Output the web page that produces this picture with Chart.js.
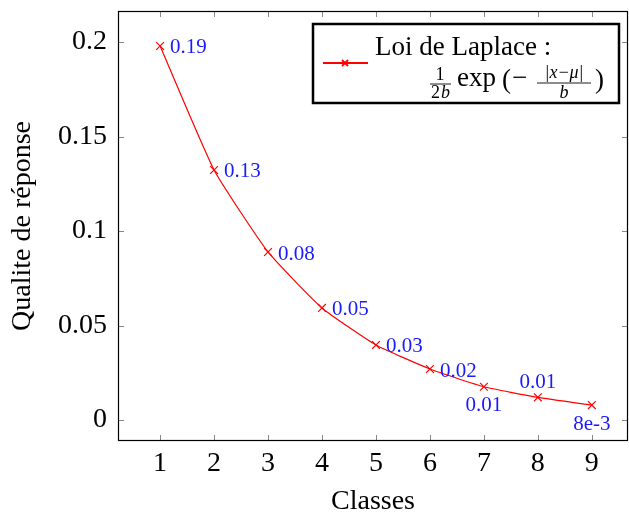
<!DOCTYPE html>
<html>
<head>
<meta charset="utf-8">
<script src="https://cdn.jsdelivr.net/npm/chart.js@4"></script>
<style>
  html, body { margin: 0; padding: 0; background: #fff; }
  #wrap { width: 629px; height: 514px; }
</style>
</head>
<body>
<div id="wrap"><canvas id="chart" width="629" height="514"></canvas></div>
<script>
// data
var classes = [1, 2, 3, 4, 5, 6, 7, 8, 9];
var quality = [0.1979, 0.1323, 0.0889, 0.0593, 0.0397, 0.0270, 0.0176, 0.0120, 0.0079];
var pointLabels = ['0.19', '0.13', '0.08', '0.05', '0.03', '0.02', '0.01', '0.01', '8e-3'];
var xTicks = [1, 2, 3, 4, 5, 6, 7, 8, 9];
var yTicks = [0, 0.05, 0.1, 0.15, 0.2];
var yTickLabels = ['0', '0.05', '0.1', '0.15', '0.2'];

var SERIF = '"Liberation Serif", "DejaVu Serif", serif';

// where each value label sits relative to its point (style only)
var labelPos = ['right', 'right', 'right', 'right', 'right', 'right', 'below', 'above', 'below'];

// plot area should reach the right edge like the pgfplots figure
var PLOT_RIGHT = 628;
var stretchRight = {
    id: 'stretchRight',
    afterLayout: function(chart) {
        var xs = chart.scales.x;
        xs.right = PLOT_RIGHT;
        xs.width = PLOT_RIGHT - xs.left;
        xs.configure();
        chart.chartArea.right = PLOT_RIGHT;
        chart.chartArea.width = PLOT_RIGHT - chart.chartArea.left;
    }
};

// frame + inward tick marks on all four sides
var framePlugin = {
    id: 'frame',
    afterDraw: function(chart) {
        var ctx = chart.ctx, a = chart.chartArea;
        var xs = chart.scales.x, ys = chart.scales.y;
        ctx.save();
        ctx.strokeStyle = '#888';
        ctx.lineWidth = 1;
        xTicks.forEach(function(v) {
            var px = Math.round(xs.getPixelForValue(v)) + 0.5;
            ctx.beginPath();
            ctx.moveTo(px, a.bottom); ctx.lineTo(px, a.bottom - 6);
            ctx.moveTo(px, a.top); ctx.lineTo(px, a.top + 6);
            ctx.stroke();
        });
        yTicks.forEach(function(v) {
            var py = Math.round(ys.getPixelForValue(v)) + 0.5;
            ctx.beginPath();
            ctx.moveTo(a.left, py); ctx.lineTo(a.left + 6, py);
            ctx.moveTo(a.right, py); ctx.lineTo(a.right - 6, py);
            ctx.stroke();
        });
        ctx.strokeStyle = '#000';
        ctx.lineWidth = 1.2;
        ctx.strokeRect(a.left + 0.5, a.top + 0.5, a.right - a.left - 1, a.bottom - a.top - 1);
        ctx.restore();
    }
};

// blue value labels next to the markers
var valueLabels = {
    id: 'valueLabels',
    afterDatasetsDraw: function(chart) {
        var ctx = chart.ctx;
        var meta = chart.getDatasetMeta(0);
        ctx.save();
        ctx.fillStyle = '#1a1aff';
        ctx.font = '21px ' + SERIF;
        ctx.textBaseline = 'middle';
        meta.data.forEach(function(pt, i) {
            var t = pointLabels[i], pos = labelPos[i];
            var x = pt.x, y = pt.y;
            ctx.textAlign = 'left';
            if (pos === 'right') { x += 10; y += 2; }
            else if (pos === 'above') { ctx.textAlign = 'center'; y -= 15; }
            else if (pos === 'below') { ctx.textAlign = 'center'; y += 19; }
            ctx.fillText(t, x, y);
        });
        ctx.restore();
    }
};

// pgfplots-like legend box with the formula
var legendBox = {
    id: 'legendBox',
    afterDraw: function(chart) {
        var ctx = chart.ctx;
        var x0 = 313, y0 = 24, x1 = 619, y1 = 103;
        ctx.save();
        ctx.fillStyle = '#fff';
        ctx.fillRect(x0, y0, x1 - x0, y1 - y0);
        ctx.strokeStyle = '#000';
        ctx.lineWidth = 2.5;
        ctx.strokeRect(x0, y0, x1 - x0, y1 - y0);

        // sample line with marker
        ctx.strokeStyle = 'red';
        ctx.lineWidth = 2;
        ctx.beginPath(); ctx.moveTo(323, 63); ctx.lineTo(368, 63); ctx.stroke();
        ctx.lineWidth = 1.8;
        ctx.beginPath();
        ctx.moveTo(342, 60); ctx.lineTo(348, 66);
        ctx.moveTo(348, 60); ctx.lineTo(342, 66);
        ctx.stroke();

        ctx.fillStyle = '#000';
        ctx.textBaseline = 'alphabetic';
        ctx.textAlign = 'left';
        ctx.font = '27px ' + SERIF;
        ctx.fillText(chart.data.datasets[0].label, 375, 55);

        // 1/(2b)
        ctx.textAlign = 'center';
        ctx.font = '18px ' + SERIF;
        ctx.fillText('1', 440, 80);
        ctx.textAlign = 'left';
        ctx.fillText('2', 431, 98);
        ctx.font = 'italic 18px ' + SERIF;
        ctx.fillText('b', 441, 98);
        ctx.lineWidth = 0.9;
        ctx.strokeStyle = '#000';
        ctx.beginPath(); ctx.moveTo(430, 84); ctx.lineTo(451, 84); ctx.stroke();

        ctx.font = '27px ' + SERIF;
        ctx.fillText('exp', 457, 86);
        ctx.fillText('(', 502, 88);
        ctx.fillText('\u2212', 512, 86);
        // |x-mu| / b
        ctx.font = 'italic 18px ' + SERIF;
        ctx.textAlign = 'center';
        ctx.fillText('|x\u2212\u03bc|', 564, 78);
        ctx.fillText('b', 564, 98);
        ctx.beginPath(); ctx.moveTo(537, 83); ctx.lineTo(591, 83); ctx.stroke();
        ctx.font = '27px ' + SERIF;
        ctx.textAlign = 'left';
        ctx.fillText(')', 595, 88);
        ctx.restore();
    }
};

var ctx = document.getElementById('chart').getContext('2d');
var chart = new Chart(ctx, {
    type: 'line',
    data: {
        datasets: [{
            label: 'Loi de Laplace :',
            data: classes.map(function(c, i) { return { x: c, y: quality[i] }; }),
            borderColor: 'red',
            borderWidth: 1.2,
            tension: 0.15,
            fill: false,
            pointStyle: 'crossRot',
            pointRadius: 5.5,
            pointBorderColor: 'red',
            pointBorderWidth: 1.2
        }]
    },
    options: {
        responsive: false,
        animation: false,
        layout: { padding: { top: 11, right: 1, left: 0, bottom: 0 } },
        plugins: { legend: { display: false }, tooltip: { enabled: false } },
        scales: {
            x: {
                type: 'linear',
                min: 0.22, max: 9.67,
                grid: { display: false },
                border: { display: false },
                afterBuildTicks: function(s) { s.ticks = xTicks.map(function(v) { return { value: v }; }); },
                afterFit: function(s) { s.height = 73; s.paddingLeft = 0; s.paddingRight = 0; },
                ticks: { color: '#000', font: { family: SERIF, size: 28 }, padding: -2, maxRotation: 0 },
                title: { display: true, text: 'Classes', color: '#000', font: { family: SERIF, size: 28 }, padding: { top: 0, bottom: -4 } }
            },
            y: {
                min: -0.0111, max: 0.2164,
                grid: { display: false },
                border: { display: false },
                afterBuildTicks: function(s) { s.ticks = yTicks.map(function(v) { return { value: v }; }); },
                afterFit: function(s) { s.width = 118; s.paddingTop = 0; s.paddingBottom = 0; },
                ticks: {
                    color: '#000', font: { family: SERIF, size: 28 }, padding: 3,
                    callback: function(v) { var i = yTicks.indexOf(v); return i >= 0 ? yTickLabels[i] : ''; }
                },
                title: { display: true, text: 'Qualite de réponse', color: '#000', font: { family: SERIF, size: 28 }, padding: { top: 6, bottom: 4 } }
            }
        }
    },
    plugins: [stretchRight, framePlugin, valueLabels, legendBox]
});
</script>
</body>
</html>
